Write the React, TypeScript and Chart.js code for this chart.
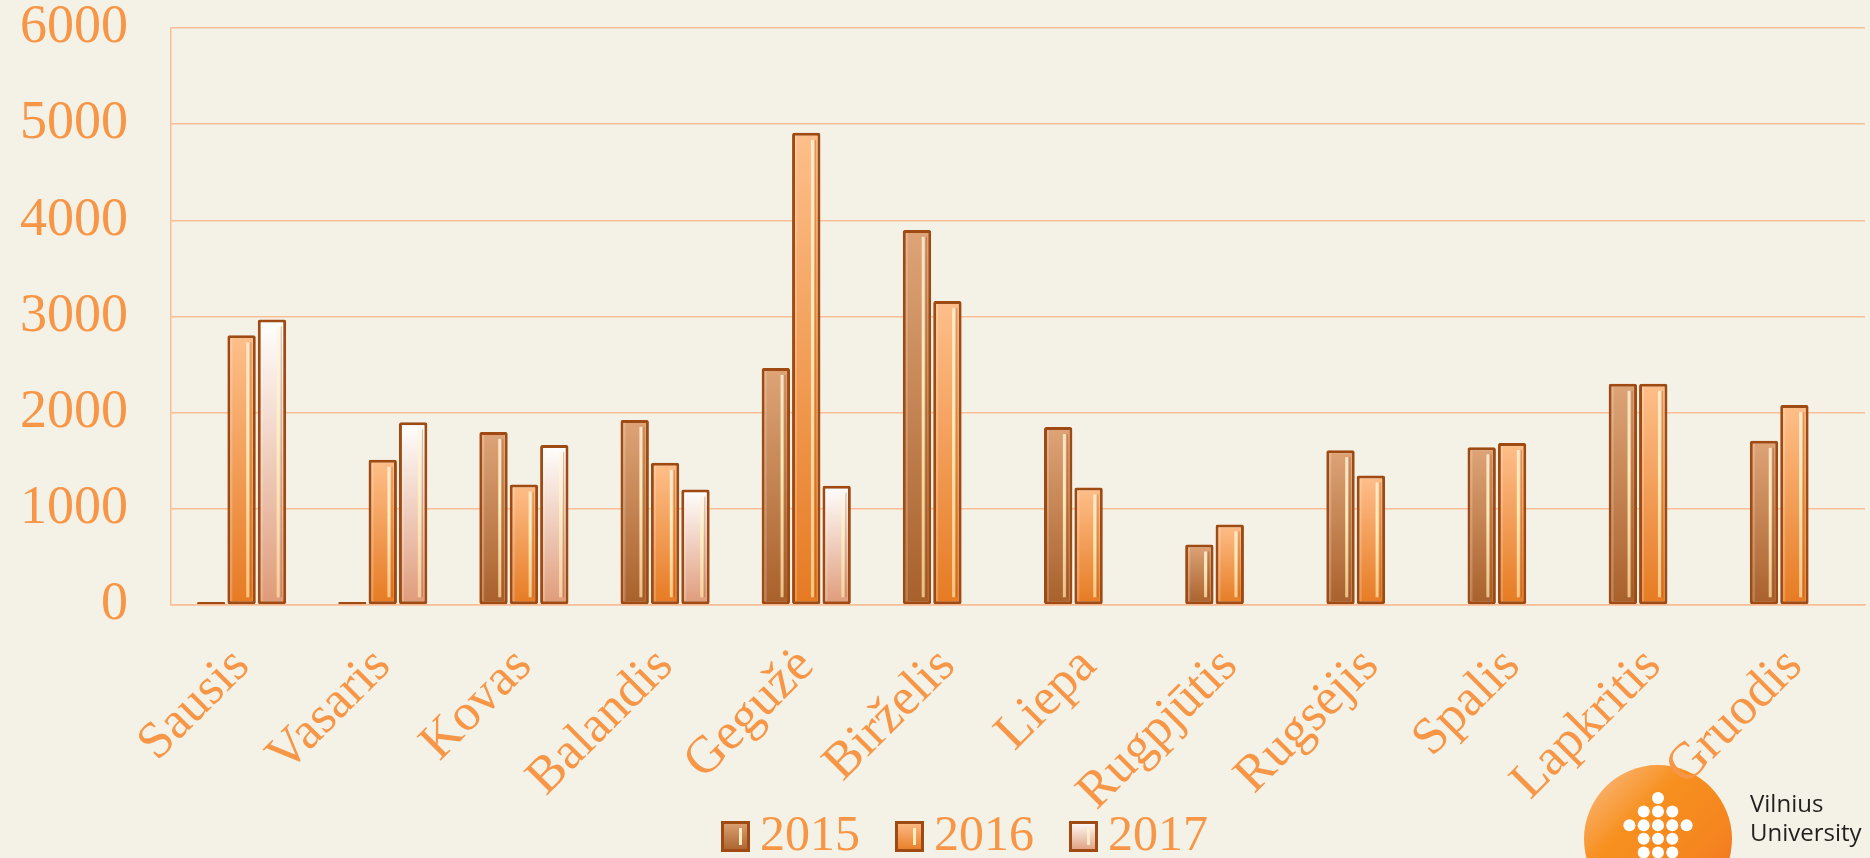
import React, { useEffect, useRef } from 'react';
import { Chart, registerables } from 'chart.js';

Chart.register(...registerables);

const categories = ['Sausis', 'Vasaris', 'Kovas', 'Balandis', 'Gegužė', 'Birželis', 'Liepa', 'Rugpjūtis', 'Rugsėjis', 'Spalis', 'Lapkritis', 'Gruodis'];
const seriesNames = ['2015', '2016', '2017'];
const values2015 = [30, 30, 1800, 1925, 2465, 3900, 1850, 630, 1610, 1640, 2300, 1707];
const values2016 = [2805, 1510, 1253, 1478, 4910, 3162, 1222, 838, 1347, 1685, 2300, 2080];
const values2017: (number | null)[] = [2970, 1900, 1663, 1201, 1240, null, null, null, null, null, null, null];
const yMin = 0;
const yMax = 6000;
const yStep = 1000;

const BG = '#F4F1E6';
const TEXT = '#F79646';
const GRID = '#F9BE96';
const BORDER = '#9E4A12';
const barColors: [string, string][] = [
  ['#DEA477', '#A8602B'],
  ['#FEBF8A', '#E67A22'],
  ['#FFFFFF', '#DF9A78'],
];
const FONT = "'Liberation Serif', 'DejaVu Serif', serif";
const LEGEND_FS = 50;
const LEGEND_BW = 29; // painted swatch width
const LEGEND_SLOT = 14; // width chart.js reserves before the text gap
const LEGEND_BH = 31;
const LEGEND_PAD = 35;

const makeFill = (si: number) => (ctx: any) => {
  const chart = ctx.chart;
  const [c0, c1] = barColors[si];
  if (ctx.type !== 'data' || !chart.chartArea || ctx.raw == null) return c1;
  const ys = chart.scales.y;
  const top = ys.getPixelForValue(ctx.raw);
  const bot = ys.getPixelForValue(0);
  if (!isFinite(top) || !isFinite(bot) || bot - top < 2) return c1;
  const g = chart.ctx.createLinearGradient(0, top, 0, bot);
  g.addColorStop(0, c0);
  g.addColorStop(1, c1);
  return g;
};

const drawLogo = (ctx: CanvasRenderingContext2D) => {
  const cx = 1658, cy = 839, r = 74;
  ctx.save();
  const g = ctx.createLinearGradient(cx - r, cy - r, cx + r, cy + r);
  g.addColorStop(0, '#FBC08F');
  g.addColorStop(0.35, '#F7901F');
  g.addColorStop(0.7, '#F58520');
  g.addColorStop(1, '#EE661E');
  ctx.fillStyle = g;
  ctx.beginPath();
  ctx.arc(cx, cy, r, 0, Math.PI * 2);
  ctx.fill();
  const rows: number[][] = [[0], [-1, 0, 1], [-2, -1, 0, 1, 2], [-1, 0, 1], [-1, 0, 1], [-1, 0, 1]];
  const dx = 14.3, dy = 13.6;
  ctx.fillStyle = '#FFFFFF';
  rows.forEach((row, ri) => {
    row.forEach((c) => {
      ctx.beginPath();
      ctx.arc(cx + c * dx, cy - 41 + ri * dy, 6, 0, Math.PI * 2);
      ctx.fill();
    });
  });
  ctx.fillStyle = '#231F20';
  ctx.font = "24px 'Open Sans', 'Noto Sans', sans-serif";
  ctx.textAlign = 'left';
  ctx.textBaseline = 'alphabetic';
  ctx.fillText('Vilnius', 1750, 812);
  ctx.fillText('University', 1750, 841);
  ctx.restore();
};

const bgPlugin = {
  id: 'bgFill',
  beforeDraw(chart: any) {
    const { ctx, width, height } = chart;
    ctx.save();
    ctx.fillStyle = BG;
    ctx.fillRect(0, 0, width, height);
    ctx.restore();
    drawLogo(ctx);
  },
};

// place the legend row (swatch top at ~821) and nudge it right like the original
const legendShift = {
  id: 'legendShift',
  afterLayout(chart: any) {
    const lg = chart.legend;
    if (lg) {
      const h = lg.height;
      const boxTop = 821;
      const top = boxTop - LEGEND_PAD - Math.max((LEGEND_FS - LEGEND_BH) / 2, 0);
      lg.top = top;
      lg.bottom = top + h;
      lg.left += 32;
      lg.right += 32;
    }
  },
};

const shinePlugin = {
  id: 'barShine',
  afterDatasetsDraw(chart: any) {
    const ctx = chart.ctx;
    chart.data.datasets.forEach((_ds: any, i: number) => {
      const meta = chart.getDatasetMeta(i);
      meta.data.forEach((bar: any) => {
        const { x, y, base, width } = bar.getProps(['x', 'y', 'base', 'width'], true);
        if (y == null || !isFinite(y)) return;
        const h = base - y;
        if (h < 16) return;
        ctx.save();
        const sx = x + width / 2 - 8;
        const g = ctx.createLinearGradient(0, y, 0, base);
        g.addColorStop(0, 'rgba(255,248,225,0.75)');
        g.addColorStop(0.4, 'rgba(255,240,190,0.95)');
        g.addColorStop(1, 'rgba(255,220,160,0.75)');
        ctx.fillStyle = g;
        ctx.fillRect(sx - 1.5, y + 7, 3, h - 14);
        ctx.fillStyle = 'rgba(140,60,15,0.3)';
        ctx.fillRect(sx + 2.5, y + 7, 1.2, h - 14);
        ctx.fillStyle = 'rgba(255,255,255,0.2)';
        ctx.fillRect(x - width / 2 + 3, y + 3, 2, h - 6);
        ctx.restore();
      });
    });
  },
};

const legendPaint = {
  id: 'legendPaint',
  afterDraw(chart: any) {
    const legend = chart.legend;
    if (!legend || !legend.legendHitBoxes) return;
    const ctx = chart.ctx;
    legend.legendHitBoxes.forEach((hb: any, i: number) => {
      const x = hb.left;
      const y = hb.top + Math.max((LEGEND_FS - LEGEND_BH) / 2, 0);
      const [c0, c1] = barColors[i];
      ctx.save();
      const g = ctx.createLinearGradient(0, y, 0, y + LEGEND_BH);
      g.addColorStop(0, c0);
      g.addColorStop(1, c1);
      ctx.fillStyle = g;
      ctx.fillRect(x, y, LEGEND_BW, LEGEND_BH);
      ctx.lineWidth = 3;
      ctx.strokeStyle = BORDER;
      ctx.strokeRect(x + 1.5, y + 1.5, LEGEND_BW - 3, LEGEND_BH - 3);
      ctx.fillStyle = 'rgba(255,240,200,0.95)';
      ctx.fillRect(x + LEGEND_BW - 11, y + 7, 3, LEGEND_BH - 14);
      ctx.restore();
    });
  },
};

export default function App() {
  const ref = useRef<HTMLCanvasElement | null>(null);
  useEffect(() => {
    document.body.style.margin = '0';
    document.body.style.background = BG;
    const canvas = ref.current;
    if (!canvas) return;
    const seriesValues = [values2015, values2016, values2017];
    const X_AXIS_H = 240;
    const LEGEND_H = LEGEND_FS + LEGEND_PAD + 10;
    const chart = new Chart(canvas, {
      type: 'bar',
      data: {
        labels: categories,
        datasets: seriesNames.map((name, i) => ({
          label: name,
          data: seriesValues[i],
          backgroundColor: makeFill(i),
          borderColor: BORDER,
          borderWidth: 3,
          borderSkipped: false,
          borderRadius: 2,
          categoryPercentage: 0.646,
          barPercentage: 0.934,
        })),
      },
      options: {
        responsive: false,
        animation: false,
        devicePixelRatio: 1,
        layout: { padding: { left: 0, right: 5, top: 0, bottom: 858 - LEGEND_H - X_AXIS_H - 605 } },
        plugins: {
          tooltip: { enabled: false },
          legend: {
            position: 'bottom',
            labels: {
              font: { family: FONT, size: LEGEND_FS },
              color: TEXT,
              boxWidth: LEGEND_SLOT,
              boxHeight: LEGEND_BH,
              padding: LEGEND_PAD,
              generateLabels: (ch: any) =>
                ch.data.datasets.map((ds: any, i: number) => ({
                  text: ds.label,
                  fillStyle: 'rgba(0,0,0,0)',
                  strokeStyle: 'rgba(0,0,0,0)',
                  lineWidth: 0,
                  hidden: false,
                  datasetIndex: i,
                  fontColor: TEXT,
                })),
            },
          },
        },
        scales: {
          x: {
            grid: { display: false, drawTicks: false },
            border: { display: true, color: GRID, width: 1.5 },
            ticks: {
              minRotation: 45,
              maxRotation: 45,
              autoSkip: false,
              color: TEXT,
              font: { family: FONT, size: 52 },
              padding: 31,
            },
            afterFit: (scale: any) => {
              scale.height = X_AXIS_H;
            },
          },
          y: {
            min: yMin,
            max: yMax,
            grid: { color: GRID, lineWidth: 1.5, drawTicks: false },
            border: { display: true, color: GRID, width: 1.5 },
            ticks: {
              stepSize: yStep,
              color: TEXT,
              font: { family: FONT, size: 54, lineHeight: 1 },
              padding: 43,
              callback: (v: any) => String(v),
            },
            afterFit: (scale: any) => {
              scale.width = 171;
              scale.paddingTop = 28;
            },
          },
        },
      },
      plugins: [bgPlugin, legendShift, shinePlugin, legendPaint],
    });
    return () => chart.destroy();
  }, []);
  return <canvas ref={ref} width={1870} height={858} style={{ display: 'block' }} />;
}
